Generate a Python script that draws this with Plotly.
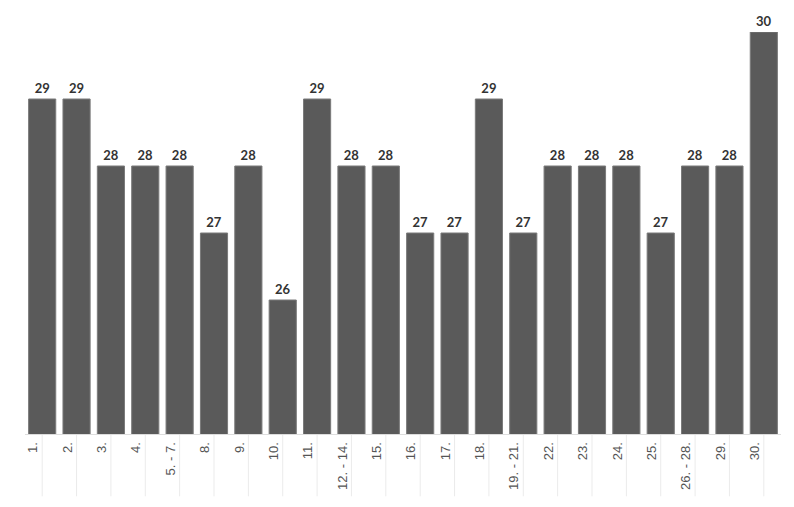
import plotly.graph_objects as go

categories = ["1.", "2.", "3.", "4.", "5. - 7.", "8.", "9.", "10.", "11.", "12. - 14.",
              "15.", "16.", "17.", "18.", "19. - 21.", "22.", "23.", "24.", "25.",
              "26. - 28.", "29.", "30."]
values = [29, 29, 28, 28, 28, 27, 28, 26, 29, 28, 28, 27, 27, 29, 27, 28, 28, 28, 27, 28, 28, 30]

fig = go.Figure()
fig.add_trace(go.Bar(
    x=categories, y=values,
    marker=dict(color="#5a5a5a", line=dict(color="#7a7a7a", width=1)),
    text=[str(v) for v in values], textposition="outside",
    textfont=dict(family="Lato", size=13, color="#333333", weight="bold"),
    cliponaxis=False, hoverinfo="skip",
))

for i, c in enumerate(categories):
    fig.add_shape(type="line", xref="x", yref="paper", x0=i, x1=i, y0=0, y1=-0.155,
                  line=dict(color="#ebebeb", width=1), layer="below")

fig.update_layout(
    width=786, height=499,
    margin=dict(l=17, r=13, t=24, b=73),
    paper_bgcolor="white", plot_bgcolor="white",
    bargap=0.21, showlegend=False,
    xaxis=dict(type="category", tickangle=-90, showline=True, linecolor="#dddddd", linewidth=1,
               range=[-0.5, len(categories) - 0.5], automargin=False,
               ticks="", showgrid=False, tickfont=dict(family="Liberation Sans", size=13, color="#555555"),
               ticklabelshift=-9, ticklabelstandoff=2),
    yaxis=dict(range=[24, 30], visible=False, showgrid=False, zeroline=False),
)
fig.write_html("out.html")
